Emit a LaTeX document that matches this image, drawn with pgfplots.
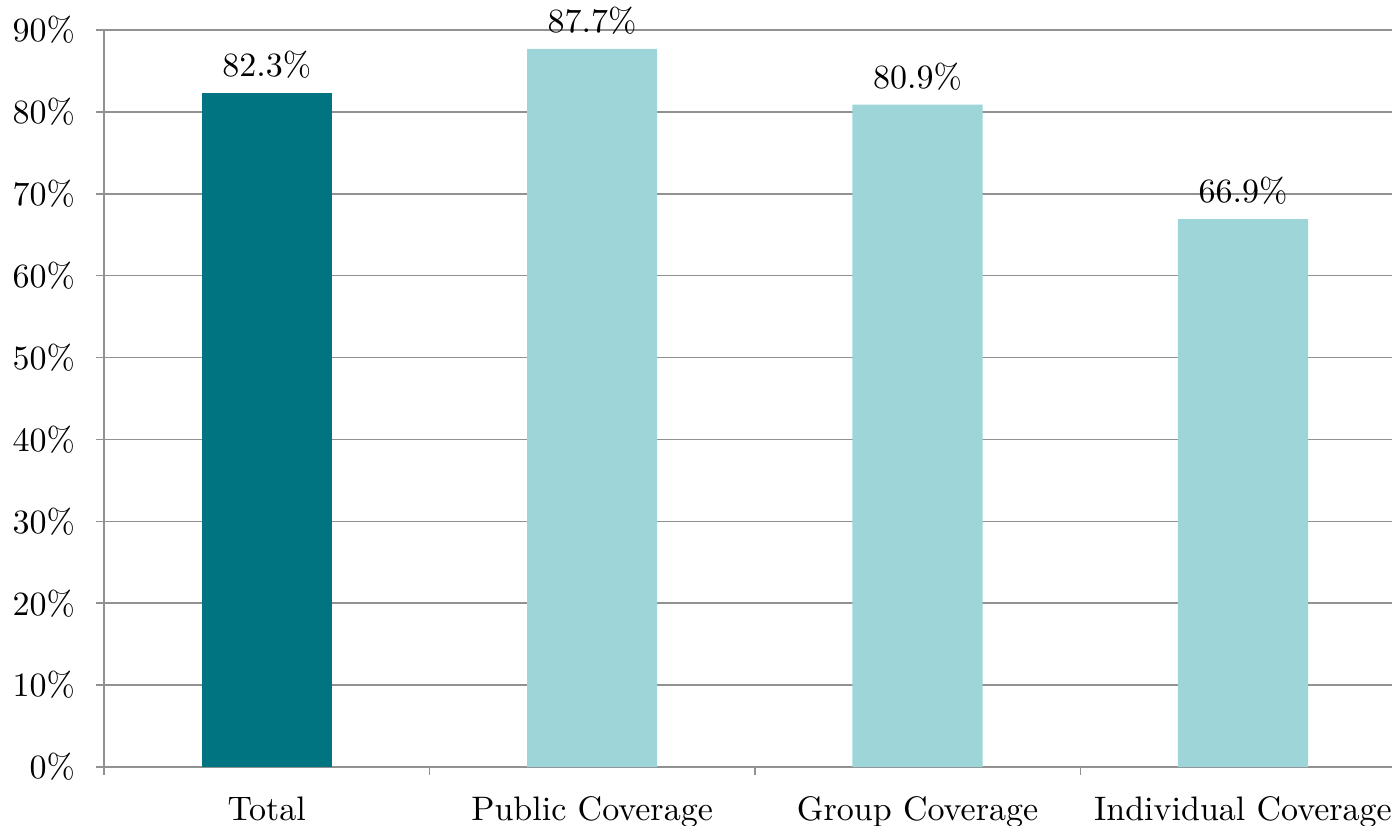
\documentclass[border=0pt]{standalone}
\usepackage{pgfplots}
\pgfplotsset{compat=1.18}

\definecolor{tealdark}{RGB}{0,116,128}
\definecolor{teallight}{RGB}{157,213,217}
\definecolor{gridgray}{RGB}{145,145,145}

\begin{document}
\begin{tikzpicture}[font=\fontsize{10.2}{12.2}\selectfont]
\begin{axis}[
  at={(0,0)}, anchor=south west,
  scale only axis,
  width=386.4pt, height=221.1pt,
  xmin=-0.5, xmax=3.458,
  ymin=0, ymax=90,
  axis lines*=left,
  axis line style={gridgray, line width=0.45pt},
  ymajorgrids,
  grid style={gridgray, line width=0.45pt},
  ytick={0,10,...,90},
  yticklabel={\pgfmathprintnumber{\tick}\%},
  yticklabel style={xshift=-2.8pt},
  xtick={0,1,2,3},
  xticklabels={Total, Public Coverage, Group Coverage, Individual Coverage},
  xticklabel style={yshift=-3pt},
  major x tick style={draw=none},
  minor xtick={-0.5,0.5,1.5,2.5},
  minor tick length=2.4pt,
  major tick length=2.4pt,
  tick align=outside,
  tick style={gridgray, line width=0.45pt},
  /pgf/number format/assume math mode=true,
  ybar, bar width=0.4, bar shift=0pt,
  nodes near coords={\pgfmathprintnumber[fixed,precision=1,fixed zerofill]{\pgfplotspointmeta}\%},
  nodes near coords style={black, yshift=0.8pt},
  clip=false,
]
\addplot[draw=none, fill=tealdark] coordinates {(0,82.3)};
\addplot[draw=none, fill=teallight] coordinates {(1,87.7) (2,80.9) (3,66.9)};
\end{axis}
\pgfresetboundingbox
\useasboundingbox (-31.2pt,-17.4pt) rectangle (386.4pt,230.1pt);
\end{tikzpicture}
\end{document}
